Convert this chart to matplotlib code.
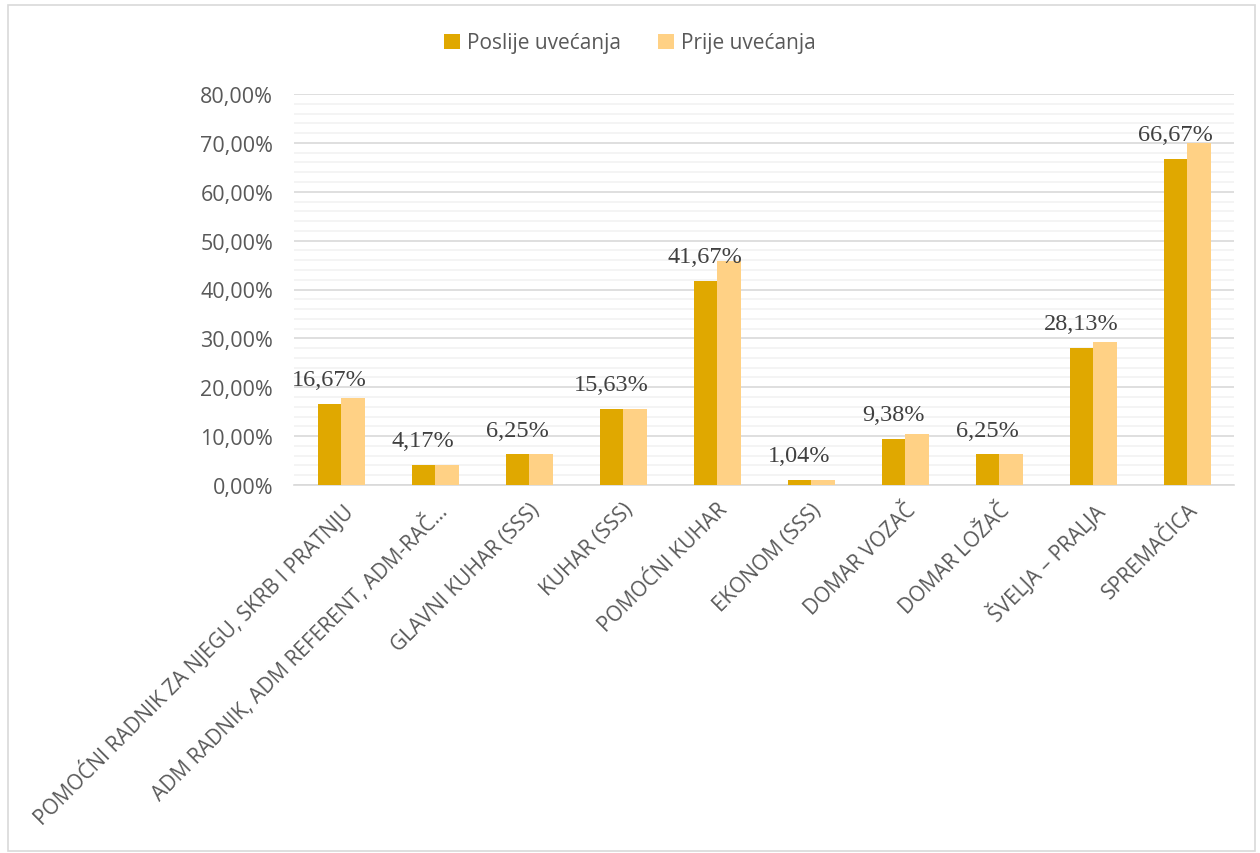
import matplotlib
matplotlib.use("Agg")
import matplotlib.pyplot as plt
import numpy as np
from matplotlib.ticker import MultipleLocator, FuncFormatter
from matplotlib.patches import Rectangle

categories = [
    "POMOĆNI RADNIK ZA NJEGU, SKRB I PRATNJU",
    "ADM RADNIK, ADM REFERENT, ADM-RAČ…",
    "GLAVNI KUHAR (SSS)",
    "KUHAR (SSS)",
    "POMOĆNI KUHAR",
    "EKONOM (SSS)",
    "DOMAR VOZAČ",
    "DOMAR LOŽAČ",
    "ŠVELJA – PRALJA",
    "SPREMAČICA",
]
poslije = [16.67, 4.17, 6.25, 15.63, 41.67, 1.04, 9.38, 6.25, 28.13, 66.67]
prije = [17.71, 4.17, 6.25, 15.63, 45.83, 1.04, 10.42, 6.25, 29.17, 70.00]
series_names = ["Poslije uvećanja", "Prije uvećanja"]
yticks = [0, 10, 20, 30, 40, 50, 60, 70, 80]

c_dark = "#E0A800"
c_light = "#FFD185"
txt = "#595959"
sans = ["Open Sans", "DejaVu Sans"]

fig = plt.figure(figsize=(12.6, 8.54), dpi=100)
ax = fig.add_axes([294/1260, 1 - 486/854, 940/1260, (486-95)/854])

x = np.arange(len(categories))
w = 0.25
ax.bar(x - w/2, poslije, w, color=c_dark, label=series_names[0], zorder=3)
ax.bar(x + w/2, prije, w, color=c_light, label=series_names[1], zorder=3)

ax.set_xlim(-0.5, len(categories) - 0.5)
ax.set_ylim(0, 80)
ax.set_yticks(yticks)
ax.yaxis.set_minor_locator(MultipleLocator(2))
ax.yaxis.set_major_formatter(FuncFormatter(lambda v, p: f"{v:.2f}%".replace(".", ",")))
ax.grid(axis="y", which="major", color="#D9D9D9", linewidth=1.2, zorder=0)
ax.grid(axis="y", which="minor", color="#F2F2F2", linewidth=1.2, zorder=0)
for s in ["top", "right", "left"]:
    ax.spines[s].set_visible(False)
ax.spines["bottom"].set_color("#D9D9D9")
ax.spines["bottom"].set_linewidth(1.2)
ax.tick_params(axis="both", which="both", length=0)
ax.tick_params(axis="y", labelsize=15.5, labelcolor=txt, pad=15)
ax.set_xticks(x)
ax.set_xticklabels(categories, rotation=45, ha="right", rotation_mode="anchor",
                   fontsize=15, color=txt)
ax.tick_params(axis="x", pad=10)
for lab in ax.get_yticklabels() + ax.get_xticklabels():
    lab.set_family(sans)

for xi, v in zip(x, poslije):
    ax.annotate(f"{v:.2f}%".replace(".", ","), (xi - w/2, v), xytext=(0, 10),
                textcoords="offset points", ha="center", va="bottom",
                fontsize=17.5, family=["Liberation Serif", "DejaVu Serif"], color="#404040")

h, l = ax.get_legend_handles_labels()
leg = fig.legend(h, l, loc="center", bbox_to_anchor=(0.5, 1 - 44/854), ncol=2,
                 frameon=False, fontsize=15, handlelength=0.75, handleheight=0.75,
                 columnspacing=1.8, handletextpad=0.35)
for t in leg.get_texts():
    t.set_color(txt)
    t.set_family(sans)

fig.patches.append(Rectangle((8/1260, 2/854), 1247/1260, 846/854, transform=fig.transFigure,
                             fill=False, edgecolor="#D9D9D9", linewidth=1.2))

fig.savefig("out.png", dpi=100)
